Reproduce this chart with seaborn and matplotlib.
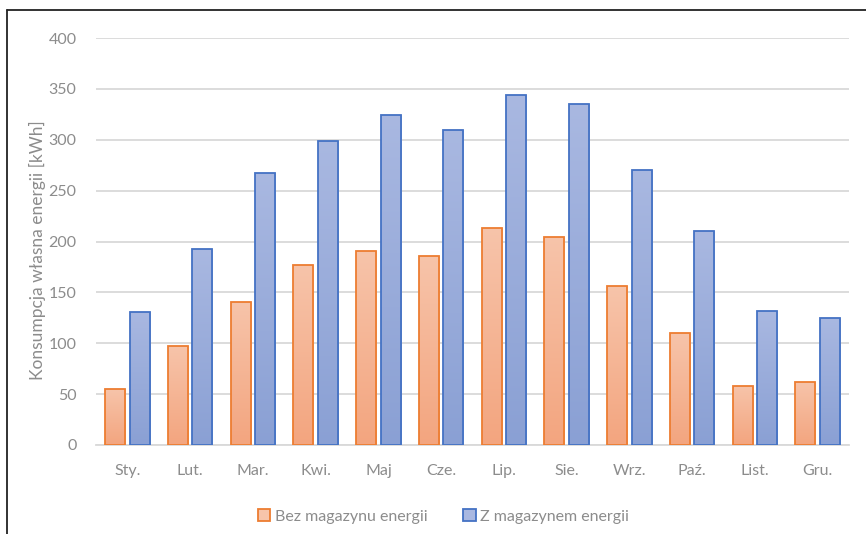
import numpy as np
import pandas as pd
import matplotlib
matplotlib.use("Agg")
import matplotlib.pyplot as plt
from matplotlib.colors import LinearSegmentedColormap
from matplotlib.patches import Patch
from matplotlib.lines import Line2D
import seaborn as sns

months = ["Sty.", "Lut.", "Mar.", "Kwi.", "Maj", "Cze.", "Lip.", "Sie.", "Wrz.", "Paź.", "List.", "Gru."]
without_storage = [55, 97, 141, 177, 191, 186, 213, 204, 156, 110, 58, 62]
with_storage = [131, 193, 267, 299, 324, 310, 344, 335, 270, 210, 132, 125]
series_names = ["Bez magazynu energii", "Z magazynem energii"]
y_ticks = [0, 50, 100, 150, 200, 250, 300, 350, 400]

df = pd.DataFrame({
    "month": months * 2,
    "value": without_storage + with_storage,
    "series": [series_names[0]] * len(months) + [series_names[1]] * len(months),
})

sns.set_theme(style="white")
plt.rcParams["font.family"] = ["Lato", "DejaVu Sans"]

edge_colors = ["#ED7D31", "#4472C4"]
fill_top = ["#F7C4AA", "#A9B8E1"]
fill_bottom = ["#F3A57F", "#8AA0D4"]
text_gray = "#8C8C8C"

fig = plt.figure(figsize=(8.66, 5.34), dpi=100)
ax = fig.add_axes([0.1109, 0.1667, 0.8695, 0.7621])

sns.barplot(data=df, x="month", y="value", hue="series", order=months,
            hue_order=series_names, palette=edge_colors, width=0.78, gap=0.18,
            ax=ax, legend=False, zorder=3)

# vertical gradient fill for every bar, outline in the series colour
for i, cont in enumerate(ax.containers):
    cmap = LinearSegmentedColormap.from_list(f"g{i}", [fill_bottom[i], fill_top[i]])
    for bar in cont:
        x0, w, h = bar.get_x(), bar.get_width(), bar.get_height()
        grad = np.linspace(0, 1, 256).reshape(-1, 1)
        im = ax.imshow(grad, extent=[x0, x0 + w, 0, h], origin="lower",
                       aspect="auto", cmap=cmap, zorder=3)
        im.set_clip_path(bar)
        bar.set_facecolor("none")
        bar.set_edgecolor(edge_colors[i])
        bar.set_linewidth(1.3)
        bar.set_zorder(4)

ax.set_xlim(-0.5, len(months) - 0.5)
ax.set_ylim(0, 400)
ax.set_yticks(y_ticks)
ax.yaxis.grid(True, color="#D9D9D9", linewidth=1.3, zorder=0)
ax.set_axisbelow(True)
for s in ["top", "right", "left"]:
    ax.spines[s].set_visible(False)
ax.spines["bottom"].set_color("#D9D9D9")
ax.spines["bottom"].set_linewidth(1.3)
ax.tick_params(axis="both", length=0, labelsize=11.5, labelcolor=text_gray)
ax.tick_params(axis="y", pad=14)
ax.tick_params(axis="x", pad=14)
ax.set_xlabel("")
ax.set_ylabel("Konsumpcja własna energii [kWh]", fontsize=12.5, color=text_gray)
ax.yaxis.set_label_coords(-0.066, 0.48)

handles = [Patch(facecolor=fill_top[i], edgecolor=edge_colors[i], linewidth=1.3,
                 label=series_names[i]) for i in range(2)]
fig.legend(handles=handles, loc="lower center", bbox_to_anchor=(0.512, -0.008),
           ncol=2, frameon=False, fontsize=11.5, labelcolor=text_gray,
           handlelength=0.8, handleheight=0.8, handletextpad=0.3, columnspacing=2.2)

# outer frame lines (top and left)
fig.add_artist(Line2D([7 / 866, 1.0], [1 - 10 / 534, 1 - 10 / 534],
                      transform=fig.transFigure, color="#222222", linewidth=1.3))
fig.add_artist(Line2D([7 / 866, 7 / 866], [0, 1 - 10 / 534],
                      transform=fig.transFigure, color="#222222", linewidth=1.3))

fig.savefig("out.png", dpi=100)
